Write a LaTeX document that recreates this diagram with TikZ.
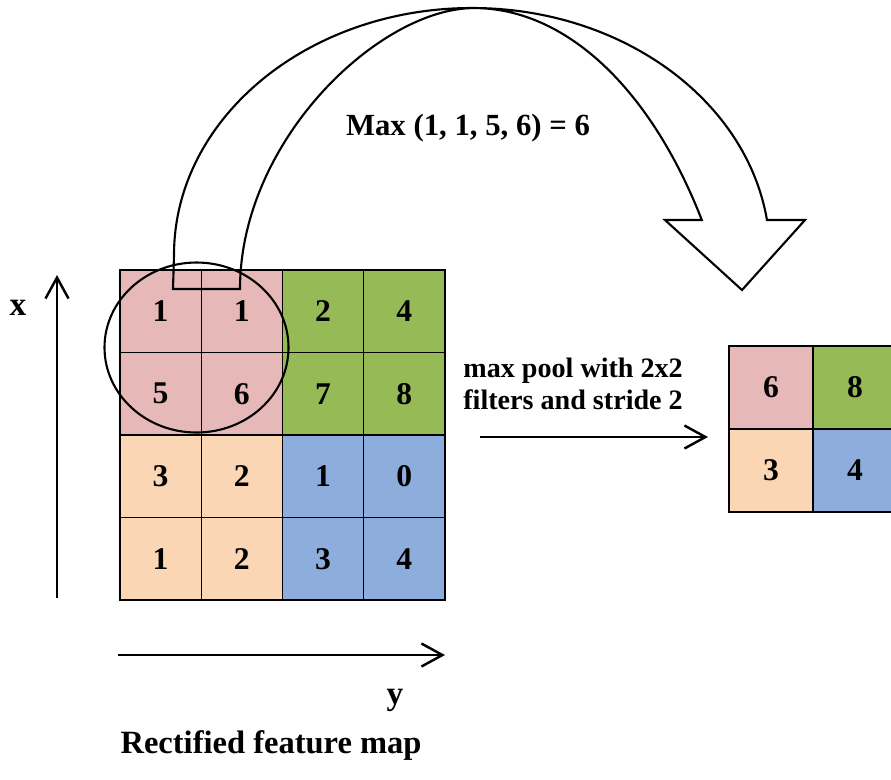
\documentclass[tikz,border=0pt]{standalone}
\usepackage{fontspec}
\setmainfont{Liberation Serif}
\usetikzlibrary{arrows.meta}

\definecolor{poolpink}{RGB}{230,185,184}
\definecolor{poolgreen}{RGB}{150,187,86}
\definecolor{poolpeach}{RGB}{250,214,180}
\definecolor{poolblue}{RGB}{141,174,221}

\begin{document}
\begin{tikzpicture}[x=0.02cm, y=-0.02cm,
	cell/.style={draw, line width=0.7pt, minimum width=1.625cm, minimum height=1.65cm, inner sep=0pt, font=\fontsize{18}{18}\selectfont\bfseries},
	outcell/.style={cell, minimum width=1.68cm, minimum height=1.66cm},
	axis/.style={line width=1.4pt, -{Straight Barb[length=0.42cm, width=0.46cm, line width=1.4pt]}},
	txt/.style={inner sep=0pt, font=\fontsize{17}{19}\selectfont\bfseries}]
			%%%%% START %%%%%
			\useasboundingbox (0,0) rectangle (891,779);
			
			% rectified feature map
			\foreach \v [count=\k from 0] in {1,1,2,4,5,6,7,8,3,2,1,0,1,2,3,4}{
				\pgfmathtruncatemacro\r{div(\k,4)}
				\pgfmathtruncatemacro\c{mod(\k,4)}
				\pgfmathtruncatemacro\qd{2*(\r>1)+(\c>1)}
				\ifcase\qd \def\col{poolpink}\or \def\col{poolgreen}\or \def\col{poolpeach}\or \def\col{poolblue}\fi
				\node[cell, fill=\col] (m-\r-\c) at ({120+81.25*(\c+0.5)}, {270+82.5*(\r+0.5)}) {\v};
			}
			
			% pooled map
			\node[outcell, fill=poolpink] (o-0-0) at (771, 387.5) {6};
			\node[outcell, fill=poolgreen] (o-0-1) at (855, 387.5) {8};
			\node[outcell, fill=poolpeach] (o-1-0) at (771, 470.5) {3};
			\node[outcell, fill=poolblue] (o-1-1) at (855, 470.5) {4};
			
			% window and the big arrow
			\draw[line width=1.2pt] (196.5, 347.5) ellipse [x radius=92, y radius=85];
			\draw[line width=1.2pt, line join=miter] (173, 289) -- (174, 255)
				arc[start angle=180, end angle=351.85, x radius=298, y radius=247]
				-- (805, 220) -- (742, 290) -- (665, 220) -- (701.8, 220)
				arc[start angle=325.3, end angle=270, x radius=277, y radius=492]
				.. controls (380, 8) and (240, 140) .. (240, 289) -- cycle;
			\node[txt, font=\fontsize{17.5}{19}\selectfont\bfseries] (maxtxt) at (468, 128) {Max (1, 1, 5, 6) = 6};
			
			% axes
			\coordinate (xa0) at (57, 598);
			\coordinate (xa1) at (57, 275);
			\draw[axis] (xa0) -- (xa1);
			\node[txt, font=\fontsize{19}{19}\selectfont\bfseries] (xlab) at (18, 308) {x};
			
			\coordinate (ya0) at (118, 655);
			\coordinate (ya1) at (445, 655);
			\draw[axis] (ya0) -- (ya1);
			\node[txt, font=\fontsize{19}{19}\selectfont\bfseries] (ylab) at (395, 700) {y};
			\node[txt, font=\fontsize{18.5}{19}\selectfont\bfseries] (maptxt) at (271, 745) {Rectified feature map};
			
			% pooling step
			\coordinate (pa0) at (480, 437);
			\coordinate (pa1) at (708, 437);
			\draw[axis] (pa0) -- (pa1);
			\node[txt, align=left, anchor=west, font=\fontsize{16}{18}\selectfont\bfseries] (pooltxt) at (463, 384) {max pool with 2x2\\filters and stride 2};
			%%%%% END %%%%%
\end{tikzpicture}
\end{document}
